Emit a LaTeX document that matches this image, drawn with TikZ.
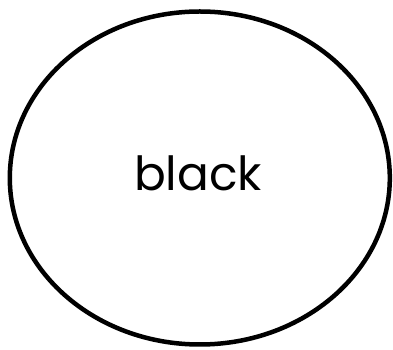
\documentclass[tikz,border=0pt]{standalone}
\usepackage{fontspec}
\setmainfont{Poppins}
\usetikzlibrary{shapes.geometric}
\tikzset{colourbubble/.style={draw,ellipse,line width=4.5pt,minimum width=380pt,minimum height=333pt,inner sep=0pt}}

\begin{document}
\begin{tikzpicture}[x=1pt,y=1pt]
    \useasboundingbox (0,0) rectangle (393,350);
    \node[colourbubble] (blk) at (199.8,172) {};
    \node[font=\fontsize{47}{50}\selectfont] (blklabel) at (198,177) {black};
  \end{tikzpicture}
\end{document}
